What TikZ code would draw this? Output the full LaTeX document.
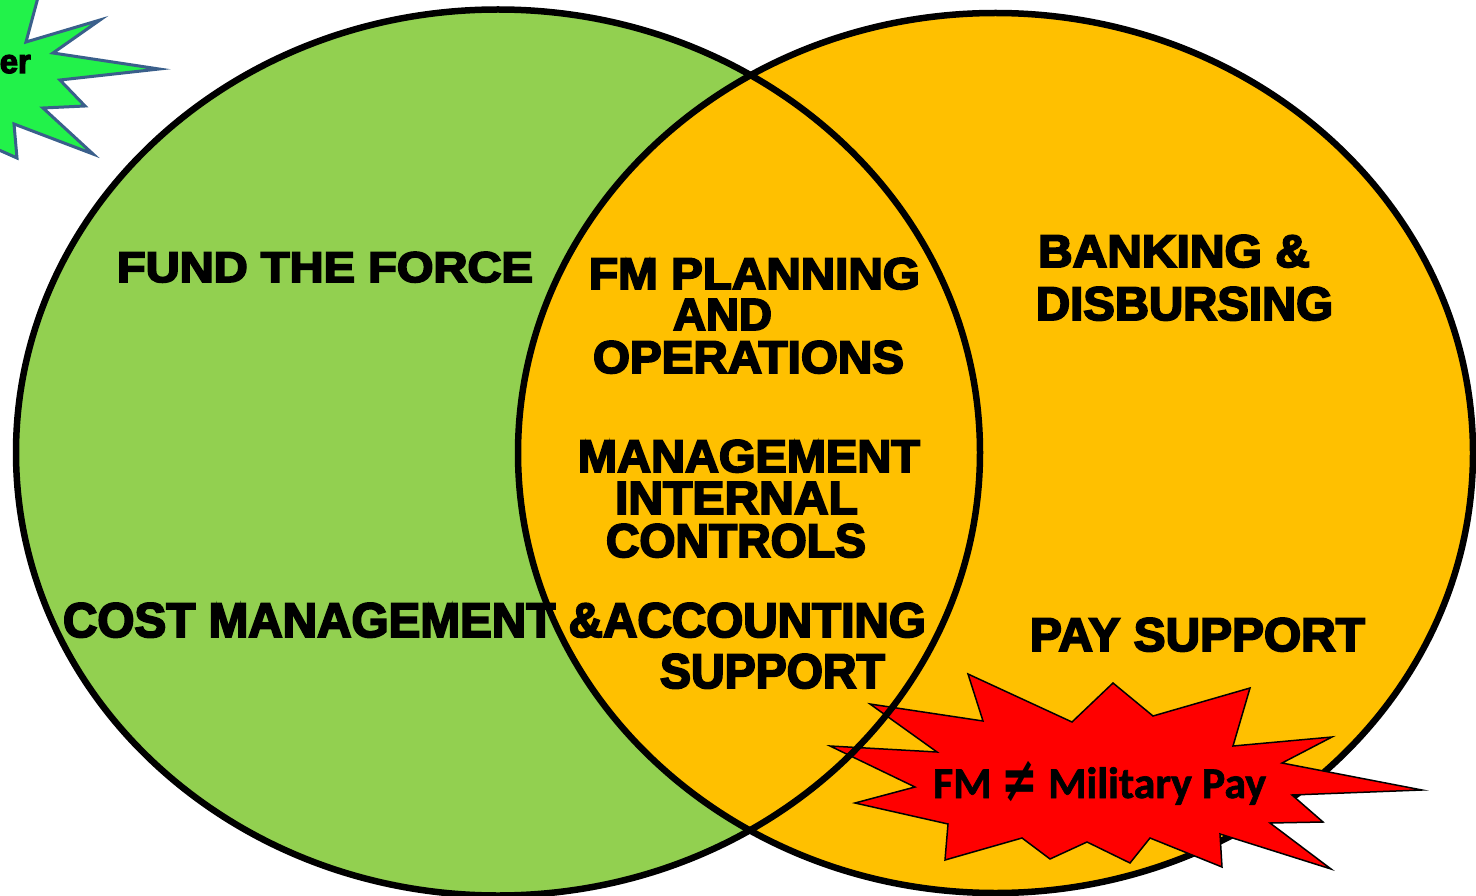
\documentclass[tikz,border=0pt]{standalone}
\usepackage{fontspec}
\usepackage{graphicx}
\setmainfont{Liberation Sans}[BoldFeatures={FakeBold=4}]
\newfontfamily\calib{Carlito}[BoldFeatures={FakeBold=1.5}]
\newfontfamily\djv{DejaVu Sans}
\definecolor{lgreen}{HTML}{92D050}
\definecolor{lorange}{HTML}{FFC000}
\definecolor{sgreen}{HTML}{22F24A}
\definecolor{sblue}{HTML}{3A5F8B}
\definecolor{sred}{HTML}{FF0000}
\newcommand{\rb}[3]{\resizebox{#1pt}{#2pt}{\fontsize{40}{40}\selectfont\bfseries #3}}
\newcommand{\myneq}{\raisebox{-3pt}{\scalebox{1.0}[1.45]{\djv\bfseries ≠}}}
\tikzset{
  lbl/.style={inner sep=0pt, outer sep=0pt, anchor=base west, text=black},
  ring/.style={line width=6.5pt, draw=black},
}
\begin{document}
\begin{tikzpicture}[x=1pt,y=-1pt]
\useasboundingbox (0,0) rectangle (1476,896);
% fills
\fill[lgreen] (498,452.5) ellipse [x radius=482pt, y radius=443pt];
\fill[lorange] (995.5,453) ellipse [x radius=477.5pt, y radius=440pt];
% right outline (under the red star)
\draw[ring] (995.5,453) ellipse [x radius=477.5pt, y radius=440pt];
% green star (top left, cut off)
\draw[fill=sgreen, draw=sblue, line width=3pt, line join=miter]
  (-10,-10) -- (40,-10) -- (26,42) -- (100,20) -- (53,53) -- (159,69) -- (60,80)
  -- (85,106) -- (43,108) -- (93,154) -- (14,124) -- (17,158) -- (-10,146) -- cycle;
\node[inner sep=0pt, anchor=base east] (er) at (31,73) {\resizebox{31pt}{18pt}{\fontsize{40}{40}\selectfont\bfseries er}};
% red star
\draw[fill=sred, draw=black, line width=1.5pt, line join=miter]
  (968,674) -- (1072,722) -- (1113,683) -- (1153,716) -- (1250,688) -- (1233,746)
  -- (1332,737) -- (1282,763) -- (1422,790) -- (1292,795) -- (1323,822) -- (1270,823)
  -- (1331,869) -- (1220,834) -- (1222,867) -- (1150,838) -- (1130,863) -- (1087,842)
  -- (1050,859) -- (1022,838) -- (945,860) -- (948,824) -- (855,803) -- (915,787)
  -- (830,746) -- (937,752) -- (870,704) -- (983,721) -- cycle;
% left outline (over the red star)
\draw[ring] (498,452.5) ellipse [x radius=482pt, y radius=443pt];
% texts
\node[lbl] (fund) at (117,282) {\rb{416}{30}{FUND THE FORCE}};
\node[lbl] (fmp) at (589,289) {\rb{331}{31}{FM PLANNING}};
\node[lbl] (and) at (673,330) {\rb{99}{31}{AND}};
\node[lbl] (ops) at (593,373) {\rb{311}{32}{OPERATIONS}};
\node[lbl] (bank) at (1038,267) {\rb{272}{32}{BANKING \&}};
\node[lbl] (disb) at (1036,320) {\rb{297}{33}{DISBURSING}};
\node[lbl] (mgmt) at (578,472) {\rb{342}{32}{MANAGEMENT}};
\node[lbl] (intl) at (615,514) {\rb{243}{32}{INTERNAL}};
\node[lbl] (ctrl) at (606,557) {\rb{260}{33}{CONTROLS}};
\node[lbl] (cost) at (63,637) {\rb{863}{34}{COST MANAGEMENT \&ACCOUNTING}};
\node[lbl] (supp) at (660,688) {\rb{225}{34}{SUPPORT}};
\node[lbl] (pay) at (1030,651) {\rb{335}{33}{PAY SUPPORT}};
\node[lbl] (fmmp) at (933,798) {\resizebox{333pt}{!}{\calib\fontsize{40}{40}\selectfont\bfseries FM \myneq{} Military Pay}};
\end{tikzpicture}
\end{document}
